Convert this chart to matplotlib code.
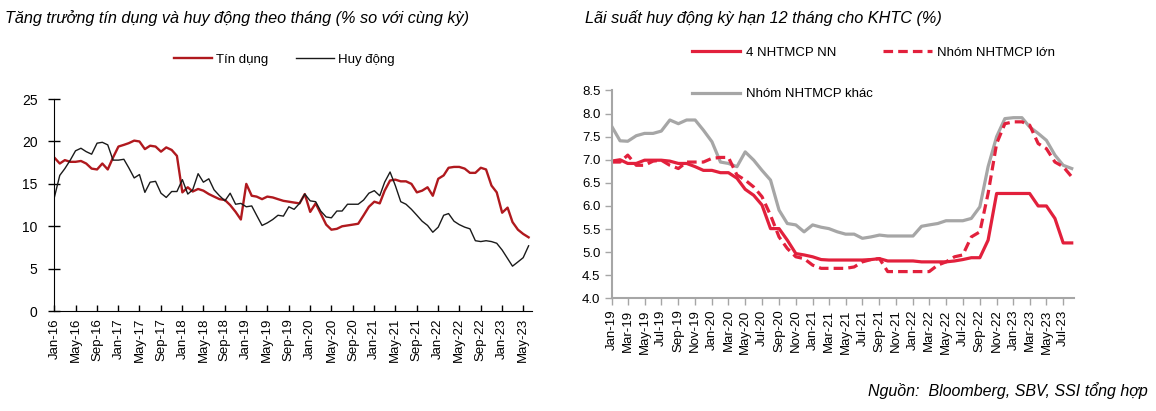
import pandas as pd
import matplotlib
matplotlib.use('Agg')
import matplotlib.pyplot as plt

plt.rcParams['font.family'] = ['Liberation Sans', 'DejaVu Sans']

# Left chart: YoY credit / deposit growth, monthly Jan-16 .. Jun-23
credit = [18.1, 17.4, 17.8, 17.6, 17.6, 17.7, 17.4, 16.8, 16.7, 17.4, 16.7, 18.1,
          19.4, 19.6, 19.8, 20.1, 20.0, 19.1, 19.5, 19.4, 18.8, 19.3, 19.0, 18.3,
          14.0, 14.6, 14.1, 14.4, 14.2, 13.8, 13.5, 13.2, 13.1, 12.5, 11.7, 10.8,
          15.0, 13.6, 13.5, 13.2, 13.5, 13.4, 13.2, 13.0, 12.9, 12.8, 12.7, 13.8,
          11.7, 12.7, 11.5, 10.2, 9.6, 9.7, 10.0, 10.1, 10.2, 10.3, 11.3, 12.3,
          12.9, 12.7, 14.2, 15.4, 15.5, 15.3, 15.3, 15.0, 14.0, 14.2, 14.6, 13.6,
          15.6, 16.0, 16.9, 17.0, 17.0, 16.8, 16.3, 16.3, 16.9, 16.7, 14.8, 14.0,
          11.6, 12.2, 10.5, 9.6, 9.1, 8.7]
deposit = [13.4, 16.0, 16.8, 17.8, 18.9, 19.2, 18.8, 18.5, 19.8, 19.9, 19.6, 17.8,
           17.8, 17.9, 16.9, 15.7, 16.1, 14.0, 15.2, 15.3, 13.9, 13.4, 14.1, 14.1,
           15.5, 13.8, 14.3, 16.2, 15.2, 15.6, 14.3, 13.6, 13.0, 13.9, 12.6, 12.7,
           12.3, 12.4, 11.3, 10.1, 10.4, 10.8, 11.3, 11.2, 12.3, 12.0, 12.7, 13.8,
           13.0, 12.9, 11.8, 11.1, 11.0, 11.8, 11.8, 12.6, 12.6, 12.6, 13.1, 13.9,
           14.2, 13.6, 15.2, 16.4, 14.8, 12.9, 12.6, 12.0, 11.3, 10.6, 10.1, 9.3,
           9.9, 11.3, 11.5, 10.6, 10.2, 9.9, 9.7, 8.3, 8.2, 8.3, 8.2, 8.0,
           7.2, 6.2, 5.3, 5.8, 6.3, 7.7]
months_l = pd.date_range('2016-01-01', periods=len(credit), freq='MS')

# Right chart: 12-month deposit rates, monthly Jan-19 .. Aug-23
soe = [6.97, 7.0, 6.92, 6.92, 6.99, 6.99, 6.99, 6.97, 6.92, 6.92, 6.85, 6.77,
       6.77, 6.72, 6.72, 6.60, 6.36, 6.23, 6.02, 5.51, 5.51, 5.26, 4.97, 4.94,
       4.90, 4.84, 4.83, 4.83, 4.83, 4.83, 4.83, 4.84, 4.86, 4.81, 4.81, 4.81,
       4.81, 4.79, 4.79, 4.79, 4.79, 4.81, 4.84, 4.88, 4.88, 5.26, 6.27, 6.27,
       6.27, 6.27, 6.27, 6.0, 6.0, 5.73, 5.2, 5.2]
large = [6.95, 6.95, 7.1, 6.88, 6.88, 6.97, 6.99, 6.88, 6.81, 6.95, 6.95, 6.95,
         7.03, 7.05, 7.05, 6.67, 6.56, 6.41, 6.20, 5.80, 5.33, 5.08, 4.90, 4.86,
         4.72, 4.65, 4.65, 4.65, 4.65, 4.68, 4.79, 4.84, 4.86, 4.58, 4.58, 4.58,
         4.58, 4.58, 4.58, 4.72, 4.79, 4.90, 4.94, 5.33, 5.44, 6.27, 7.35, 7.78,
         7.82, 7.82, 7.75, 7.35, 7.24, 6.95, 6.85, 6.63]
other = [7.73, 7.41, 7.40, 7.52, 7.57, 7.57, 7.62, 7.86, 7.78, 7.86, 7.86, 7.64,
         7.39, 6.95, 6.92, 6.85, 7.17, 6.99, 6.77, 6.56, 5.91, 5.62, 5.59, 5.44,
         5.59, 5.54, 5.51, 5.44, 5.39, 5.39, 5.30, 5.33, 5.37, 5.35, 5.35, 5.35,
         5.35, 5.56, 5.59, 5.62, 5.68, 5.68, 5.68, 5.73, 5.98, 6.85, 7.50, 7.89,
         7.91, 7.91, 7.71, 7.57, 7.42, 7.10, 6.88, 6.81]
months_r = pd.date_range('2019-01-01', periods=len(soe), freq='MS')

fig = plt.figure(figsize=(11.56, 4.11), dpi=100)

# ---- left chart
ax1 = fig.add_axes([0.047, 0.243, 0.413, 0.516])
ax1.plot(months_l, credit, color='#b0191e', lw=1.7, label='Tín dụng')
ax1.plot(months_l, deposit, color='#1a1a1a', lw=1.0, label='Huy động')
ax1.set_ylim(0, 25)
ax1.set_yticks([0, 5, 10, 15, 20, 25])
ax1.set_xlim(months_l[0], months_l[-1] + pd.Timedelta(days=18))
ax1.set_xticks(months_l[::4])
ax1.set_xticklabels([d.strftime('%b-%y') for d in months_l[::4]], rotation=90)
for s in ['top', 'right']:
    ax1.spines[s].set_visible(False)
ax1.tick_params(axis='y', direction='inout', length=8, width=1, labelsize=10, pad=8)
ax1.tick_params(axis='x', direction='in', length=4, width=1, labelsize=9.5, pad=5)
fig.text(0.004, 0.955, 'Tăng trưởng tín dụng và huy động theo tháng (% so với cùng kỳ)',
         fontsize=11.7, style='italic', va='center')
ax1.legend(loc='center', bbox_to_anchor=(0.246, 0.855), bbox_transform=fig.transFigure,
           ncol=2, frameon=False, fontsize=9.5, handlelength=2.9, columnspacing=2.1,
           handletextpad=0.3)

# ---- right chart
grey = '#a6a6a6'
red = '#e2203c'
ax2 = fig.add_axes([0.529, 0.274, 0.400, 0.506])
l1, = ax2.plot(months_r, soe, color=red, lw=2.3, label='4 NHTMCP NN')
l3, = ax2.plot(months_r, other, color=grey, lw=2.3, label='Nhóm NHTMCP khác')
l2, = ax2.plot(months_r, large, color=red, lw=2.3, ls=(0, (3, 1.6)), label='Nhóm NHTMCP lớn')
ax2.set_ylim(4.0, 8.5)
ax2.set_yticks([4.0, 4.5, 5.0, 5.5, 6.0, 6.5, 7.0, 7.5, 8.0, 8.5])
ax2.set_yticklabels(['%.1f' % v for v in ax2.get_yticks()])
ax2.set_xlim(months_r[0], months_r[-1] + pd.Timedelta(days=8))
ax2.set_xticks(months_r[:55:2])
ax2.set_xticklabels([d.strftime('%b-%y') for d in months_r[:55:2]], rotation=90)
for s in ['top', 'right']:
    ax2.spines[s].set_visible(False)
for s in ['left', 'bottom']:
    ax2.spines[s].set_color(grey)
    ax2.spines[s].set_linewidth(1.5)
ax2.tick_params(axis='y', direction='out', length=5, width=1, color=grey, labelsize=9.5, pad=3)
ax2.tick_params(axis='x', direction='out', length=5, width=1, color=grey, labelsize=9.5, pad=3)
fig.text(0.506, 0.955, 'Lãi suất huy động kỳ hạn 12 tháng cho KHTC (%)',
         fontsize=11.7, style='italic', va='center')
ax2.legend(handles=[l1, l3, l2], loc='upper left', bbox_to_anchor=(0.588, 0.915),
           bbox_transform=fig.transFigure, ncol=2, frameon=False, fontsize=9.5,
           handlelength=3.7, handletextpad=0.4, labelspacing=2.2, columnspacing=0.8)

fig.text(0.993, 0.05, 'Nguồn:  Bloomberg, SBV, SSI tổng hợp', fontsize=11.5,
         style='italic', ha='right', va='center')

fig.savefig('out.png', dpi=100)
